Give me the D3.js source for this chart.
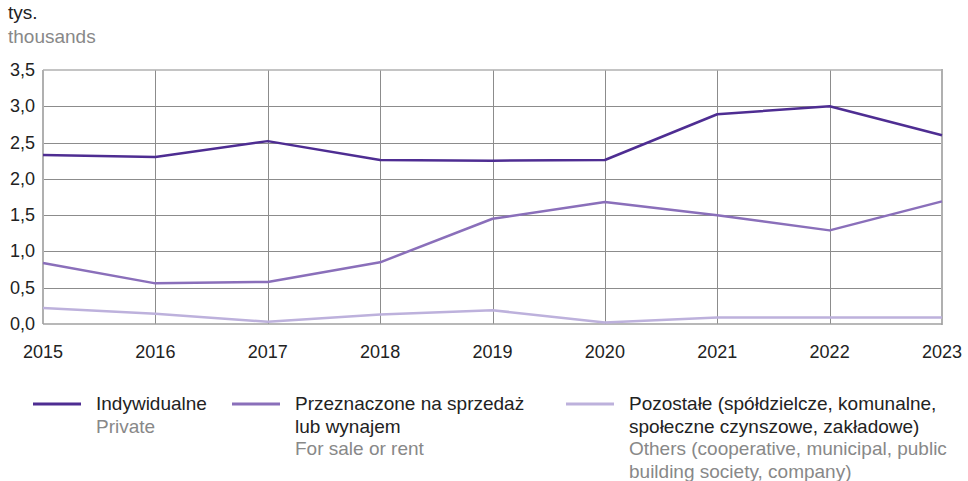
<!DOCTYPE html>
<html>
<head>
<meta charset="utf-8">
<style>
  body { margin: 0; background: #fff; }
  text { font-family: "Liberation Sans", Arial, sans-serif; }
</style>
<script src="https://d3js.org/d3.v7.min.js"></script>
</head>
<body>
<script>
// data (thousands)
var years = [2015, 2016, 2017, 2018, 2019, 2020, 2021, 2022, 2023];
var private_ = [2.33, 2.30, 2.52, 2.26, 2.25, 2.26, 2.89, 3.00, 2.60];
var saleRent = [0.84, 0.56, 0.58, 0.85, 1.45, 1.68, 1.50, 1.29, 1.69];
var others = [0.22, 0.14, 0.03, 0.13, 0.19, 0.02, 0.09, 0.09, 0.09];
var yTicks = [0, 0.5, 1, 1.5, 2, 2.5, 3, 3.5];

var seriesNames = [
  { pl: ["Indywidualne"], en: ["Private"] },
  { pl: ["Przeznaczone na sprzedaż", "lub wynajem"], en: ["For sale or rent"] },
  { pl: ["Pozostałe (spółdzielcze, komunalne,", "społeczne czynszowe, zakładowe)"],
    en: ["Others (cooperative, municipal, public", "building society, company)"] }
];
var colors = ["#4e2d92", "#8a6fba", "#bdb1dc"];
var series = [private_, saleRent, others];

var W = 968, H = 481;
var pLeft = 43, pRight = 942, pTop = 70, pBottom = 324;
var fs = 18, fsLeg = 19;

var svg = d3.select("body").append("svg")
    .attr("width", W).attr("height", H);

var x = d3.scaleLinear().domain([2015, 2023]).range([pLeft, pRight]);
var y = d3.scaleLinear().domain([0, 3.5]).range([pBottom, pTop]);

// unit labels
svg.append("text").attr("x", 8).attr("y", 19).attr("font-size", fsLeg)
    .attr("fill", "#222").text("tys.");
svg.append("text").attr("x", 8).attr("y", 43).attr("font-size", fsLeg)
    .attr("fill", "#888").text("thousands");

// grid
var grid = svg.append("g");
grid.selectAll("line.h").data(yTicks.slice(1, -1)).join("line")
    .attr("x1", pLeft).attr("x2", pRight)
    .attr("y1", d => Math.round(y(d)) + 0.5).attr("y2", d => Math.round(y(d)) + 0.5)
    .attr("stroke", "#8c8c8c").attr("stroke-width", 1);
grid.selectAll("line.v").data(years.slice(1, -1)).join("line")
    .attr("y1", pTop).attr("y2", pBottom)
    .attr("x1", d => Math.round(x(d)) + 0.5).attr("x2", d => Math.round(x(d)) + 0.5)
    .attr("stroke", "#8c8c8c").attr("stroke-width", 1);

// frame
svg.append("line").attr("x1", pLeft).attr("x2", pRight).attr("y1", pTop).attr("y2", pTop)
    .attr("stroke", "#b0b0b0").attr("stroke-width", 1.5);
svg.append("line").attr("x1", pLeft).attr("x2", pLeft).attr("y1", pTop).attr("y2", pBottom)
    .attr("stroke", "#b0b0b0").attr("stroke-width", 2);
svg.append("line").attr("x1", pRight).attr("x2", pRight).attr("y1", pTop - 1).attr("y2", pBottom + 1)
    .attr("stroke", "#b0b0b0").attr("stroke-width", 2);
svg.append("line").attr("x1", pLeft).attr("x2", pRight).attr("y1", pBottom).attr("y2", pBottom)
    .attr("stroke", "#a0a0a0").attr("stroke-width", 1.5);

// axes labels
var fmt = d => d.toFixed(1).replace(".", ",");
svg.append("g").selectAll("text").data(yTicks).join("text")
    .attr("x", 35).attr("y", d => y(d) + 6)
    .attr("text-anchor", "end").attr("font-size", fs).attr("fill", "#222")
    .text(fmt);
svg.append("g").selectAll("text").data(years).join("text")
    .attr("x", d => x(d)).attr("y", 358)
    .attr("text-anchor", "middle").attr("font-size", fs).attr("fill", "#222")
    .text(d => d);

// lines
var line = d3.line().x((d, i) => x(years[i])).y(d => y(d));
svg.append("g").attr("fill", "none").attr("stroke-width", 2.5)
    .attr("stroke-linejoin", "round")
  .selectAll("path").data(series.slice().reverse()).join("path")
    .attr("stroke", (d, i) => colors[2 - i])
    .attr("d", line);

// legend
var legX = [33, 232, 566];
var lg = svg.append("g").selectAll("g").data(seriesNames).join("g")
    .attr("transform", (d, i) => `translate(${legX[i]},0)`);
lg.append("line").attr("x1", 0).attr("x2", 48).attr("y1", 404).attr("y2", 404)
    .attr("stroke", (d, i) => colors[i]).attr("stroke-width", 3);
lg.each(function(d) {
  var g = d3.select(this);
  var rows = d.pl.map(t => ({ t: t, c: "#222" }))
      .concat(d.en.map(t => ({ t: t, c: "#888" })));
  g.selectAll("text").data(rows).join("text")
      .attr("x", 63).attr("y", (r, k) => 410 + k * 22.5)
      .attr("font-size", fsLeg).attr("fill", r => r.c)
      .text(r => r.t);
});
</script>
</body>
</html>
